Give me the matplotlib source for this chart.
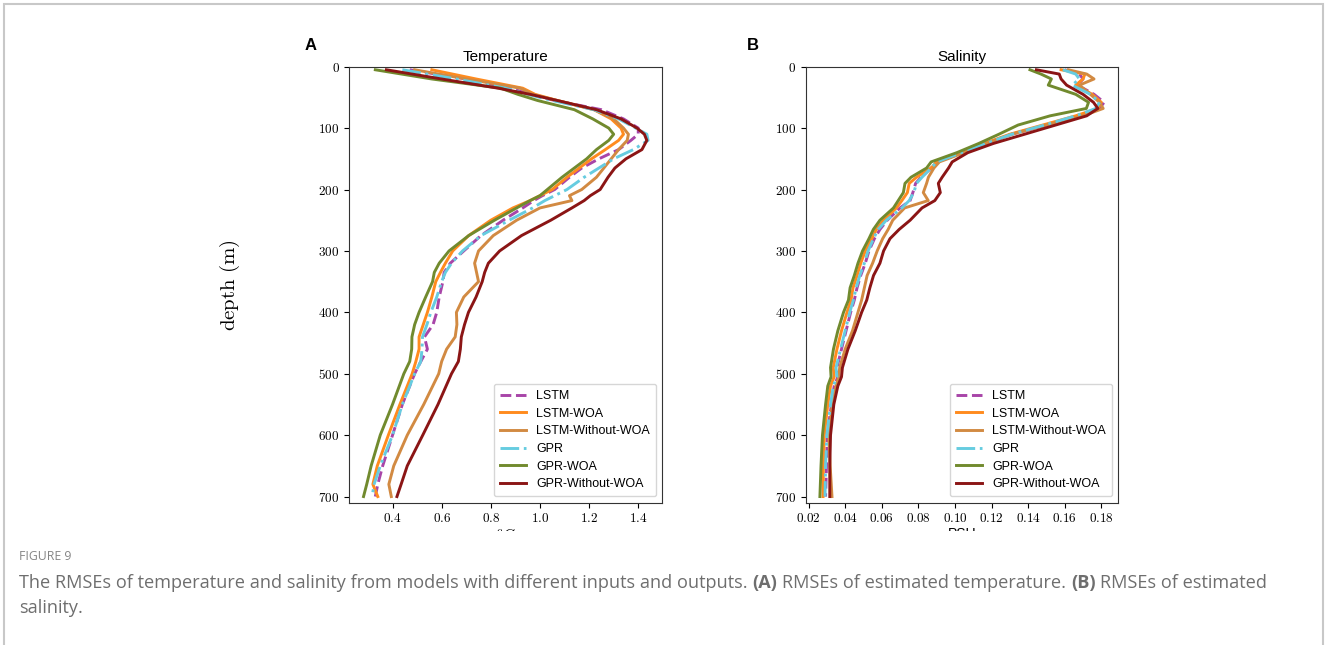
import matplotlib
matplotlib.use('Agg')
import matplotlib.pyplot as plt
from matplotlib.ticker import FuncFormatter, MultipleLocator
from matplotlib.patches import Rectangle

plt.rcParams['mathtext.fontset'] = 'cm'

# ---- data ----
series = ['LSTM', 'LSTM-WOA', 'LSTM-Without-WOA', 'GPR', 'GPR-WOA', 'GPR-Without-WOA']
colors = ['#a845a8', '#ff8b1e', '#d28a42', '#66cce0', '#718a2e', '#8b1515']
styles = ['--', '-', '-', '-.', '-', '-']

depth_t = [5, 20, 35, 45, 55, 70, 85, 100, 110, 120, 135, 150, 165, 180, 200, 210, 218,
           230, 250, 275, 300, 320, 335, 350, 375, 400, 420, 440, 460, 480, 500, 550,
           600, 650, 680, 700]
t_lstm = [0.47, 0.70, 0.88, 0.96, 1.06, 1.25, 1.34, 1.40, 1.40, 1.37, 1.32, 1.24, 1.17,
          1.12, 1.06, 1.01, 0.975, 0.93, 0.85, 0.76, 0.69, 0.635, 0.61, 0.605, 0.59, 0.58,
          0.565, 0.53, 0.542, 0.515, 0.49, 0.44, 0.40, 0.36, 0.34, 0.33]
t_lstm_woa = [0.56, 0.74, 0.93, 0.98, 1.07, 1.22, 1.29, 1.33, 1.34, 1.32, 1.266, 1.21,
              1.16, 1.11, 1.05, 1.00, 0.96, 0.89, 0.80, 0.71, 0.645, 0.615, 0.595, 0.576,
              0.56, 0.542, 0.525, 0.508, 0.508, 0.495, 0.48, 0.43, 0.383, 0.338, 0.32, 0.34]
t_lstm_nowoa = [0.49, 0.70, 0.92, 0.97, 1.07, 1.22, 1.30, 1.34, 1.36, 1.355, 1.32, 1.29,
                1.26, 1.23, 1.17, 1.12, 1.13, 1.00, 0.905, 0.81, 0.75, 0.734, 0.742, 0.75,
                0.69, 0.66, 0.662, 0.655, 0.62, 0.60, 0.588, 0.527, 0.46, 0.405, 0.385, 0.395]
t_gpr = [0.44, 0.66, 0.86, 0.95, 1.05, 1.22, 1.32, 1.39, 1.435, 1.44, 1.38, 1.30, 1.24,
         1.18, 1.11, 1.06, 1.02, 0.97, 0.875, 0.76, 0.685, 0.64, 0.615, 0.60, 0.58, 0.556,
         0.54, 0.522, 0.52, 0.515, 0.49, 0.44, 0.40, 0.35, 0.325, 0.317]
t_gpr_woa = [0.33, 0.56, 0.84, 0.91, 0.99, 1.14, 1.215, 1.28, 1.30, 1.28, 1.23, 1.19,
             1.14, 1.09, 1.03, 1.00, 0.96, 0.905, 0.815, 0.71, 0.63, 0.59, 0.57, 0.563,
             0.535, 0.508, 0.49, 0.479, 0.478, 0.47, 0.446, 0.40, 0.35, 0.313, 0.295, 0.282]
t_gpr_nowoa = [0.375, 0.60, 0.83, 0.96, 1.07, 1.23, 1.33, 1.395, 1.425, 1.435, 1.415,
               1.35, 1.305, 1.277, 1.245, 1.205, 1.18, 1.13, 1.044, 0.925, 0.836, 0.79,
               0.775, 0.765, 0.74, 0.709, 0.693, 0.68, 0.676, 0.668, 0.64, 0.585, 0.523,
               0.46, 0.435, 0.418]

depth_s = [5, 12, 20, 30, 45, 58, 68, 80, 95, 110, 125, 140, 155, 165, 180, 190, 205,
           218, 230, 250, 265, 280, 300, 320, 340, 360, 380, 400, 430, 460, 490, 505,
           520, 550, 600, 650, 700]
s_lstm = [0.160, 0.168, 0.170, 0.167, 0.176, 0.1815, 0.179, 0.168, 0.150, 0.131, 0.117,
          0.104, 0.090, 0.087, 0.0815, 0.0785, 0.077, 0.0755, 0.070, 0.063, 0.059, 0.056,
          0.053, 0.051, 0.0485, 0.0465, 0.045, 0.043, 0.0405, 0.038, 0.0355, 0.036, 0.034,
          0.0325, 0.0302, 0.0298, 0.0293]
s_lstm_woa = [0.158, 0.171, 0.170, 0.166, 0.175, 0.180, 0.178, 0.166, 0.148, 0.130, 0.116,
              0.104, 0.090, 0.087, 0.079, 0.075, 0.074, 0.071, 0.068, 0.061, 0.057, 0.0545,
              0.051, 0.0485, 0.0465, 0.0443, 0.0432, 0.041, 0.038, 0.0355, 0.0335, 0.034,
              0.032, 0.0305, 0.0286, 0.0281, 0.0279]
s_lstm_nowoa = [0.162, 0.172, 0.176, 0.168, 0.174, 0.179, 0.181, 0.170, 0.150, 0.131, 0.117,
                0.105, 0.0915, 0.0885, 0.0855, 0.0845, 0.0827, 0.0854, 0.0725, 0.066,
                0.0635, 0.0605, 0.0575, 0.055, 0.052, 0.0505, 0.049, 0.047, 0.044, 0.040,
                0.037, 0.0365, 0.035, 0.033, 0.031, 0.0318, 0.0328]
s_gpr = [0.159, 0.166, 0.168, 0.164, 0.174, 0.179, 0.177, 0.166, 0.149, 0.131, 0.117,
         0.1035, 0.090, 0.087, 0.082, 0.079, 0.0775, 0.075, 0.071, 0.0625, 0.058, 0.0555,
         0.0525, 0.0505, 0.048, 0.046, 0.0445, 0.0425, 0.040, 0.0375, 0.035, 0.0355,
         0.0335, 0.032, 0.030, 0.0293, 0.029]
s_gpr_woa = [0.141, 0.147, 0.1527, 0.151, 0.166, 0.173, 0.1718, 0.152, 0.1345, 0.124,
             0.113, 0.101, 0.087, 0.0845, 0.076, 0.0727, 0.0718, 0.069, 0.0664, 0.059,
             0.0554, 0.053, 0.0495, 0.047, 0.045, 0.0427, 0.0418, 0.0391, 0.036, 0.0336,
             0.032, 0.0323, 0.0305, 0.0293, 0.0276, 0.0268, 0.0262]
s_gpr_nowoa = [0.1445, 0.157, 0.158, 0.161, 0.170, 0.1757, 0.1781, 0.172, 0.155, 0.138,
               0.121, 0.107, 0.0985, 0.0965, 0.093, 0.0909, 0.092, 0.089, 0.082, 0.0755,
               0.0695, 0.0645, 0.061, 0.059, 0.0555, 0.0535, 0.0518, 0.049, 0.0455, 0.0415,
               0.0385, 0.038, 0.036, 0.0338, 0.032, 0.0316, 0.0316]

temp = [t_lstm, t_lstm_woa, t_lstm_nowoa, t_gpr, t_gpr_woa, t_gpr_nowoa]
sal = [s_lstm, s_lstm_woa, s_lstm_nowoa, s_gpr, s_gpr_woa, s_gpr_nowoa]

W, H = 1328, 645
fig = plt.figure(figsize=(W / 100, H / 100), dpi=100)


def fx(px):
    return px / W


def fy(py):
    return 1 - py / H


ax1 = fig.add_axes([fx(349.3), fy(502.7), fx(662.3) - fx(349.3), fy(66.7) - fy(502.7)])
ax2 = fig.add_axes([fx(805.7), fy(502.7), fx(1118.3) - fx(805.7), fy(66.7) - fy(502.7)])

for ax, data, depth in [(ax1, temp, depth_t), (ax2, sal, depth_s)]:
    for vals, name, c, ls in zip(data, series, colors, styles):
        ax.plot(vals, depth, ls, color=c, lw=2.1, label=name)
    ax.set_ylim(710, 0)
    ax.yaxis.set_major_locator(MultipleLocator(100))
    ax.yaxis.set_major_formatter(FuncFormatter(lambda v, p: '$%d$' % v))
    ax.tick_params(labelsize=9.5, length=3.5, width=0.8)
    for sp in ax.spines.values():
        sp.set_color('#333333')
    ax.legend(loc='lower right', prop={'family': 'Liberation Sans', 'size': 9},
              handlelength=2.1, labelspacing=0.45, borderpad=0.5)

ax1.xaxis.set_major_locator(MultipleLocator(0.2))
ax1.xaxis.set_major_formatter(FuncFormatter(lambda v, p: '$%.1f$' % v))
ax2.xaxis.set_major_locator(MultipleLocator(0.02))
ax2.xaxis.set_major_formatter(FuncFormatter(lambda v, p: '$%.2f$' % v))

ax1.set_title('Temperature', fontfamily='Liberation Sans', fontsize=11, pad=4)
ax2.set_title('Salinity', fontfamily='Liberation Sans', fontsize=11, pad=4)
ax1.set_xlabel(r'$^oC$', fontsize=11, labelpad=1)
ax2.set_xlabel('PSU', fontfamily='Liberation Sans', fontsize=10, labelpad=1)

fig.text(fx(311), fy(46), 'A', fontfamily='Liberation Sans', fontweight='bold',
         fontsize=12, ha='center', va='center')
fig.text(fx(753), fy(46), 'B', fontfamily='Liberation Sans', fontweight='bold',
         fontsize=12, ha='center', va='center')
fig.text(fx(230), fy(285), r'$\mathrm{depth\ (m)}$', rotation=90, fontsize=15,
         ha='center', va='center')

# the panel image is cropped just below the axis labels
fig.add_artist(Rectangle((fx(280), fy(560)), fx(900), fy(531) - fy(560),
                         transform=fig.transFigure, facecolor='white',
                         edgecolor='none', zorder=5))

# outer frame
fig.add_artist(Rectangle((fx(4), -0.05), fx(1323) - fx(4), fy(4) + 0.05,
                         transform=fig.transFigure, fill=False,
                         edgecolor='#c8c8c8', lw=1.5, zorder=6))

# caption
cap_color = '#6e6e6e'
fig.text(fx(19), fy(557), 'FIGURE 9', fontfamily='Open Sans', fontsize=8.8,
         color='#858585', va='center')

renderer = fig.canvas.get_renderer()


def text_width(s, **kw):
    t = fig.text(0, 0, s, **kw)
    w = t.get_window_extent(renderer).width
    t.remove()
    return w


cap_kw = dict(fontfamily='Open Sans', fontsize=13.1, color=cap_color, va='center')
space = text_width('x x', **cap_kw) - text_width('xx', **cap_kw)
runs = [('The RMSEs of temperature and salinity from models with different inputs and outputs.', 'normal'),
        ('(A)', 'bold'), ('RMSEs of estimated temperature.', 'normal'),
        ('(B)', 'bold'), ('RMSEs of estimated', 'normal')]
x = 19
for s, wt in runs:
    t = fig.text(fx(x), fy(583), s, fontweight=wt, **cap_kw)
    x += t.get_window_extent(renderer).width + space
fig.text(fx(19), fy(608), 'salinity.', **cap_kw)

fig.savefig('out.png', dpi=100)
